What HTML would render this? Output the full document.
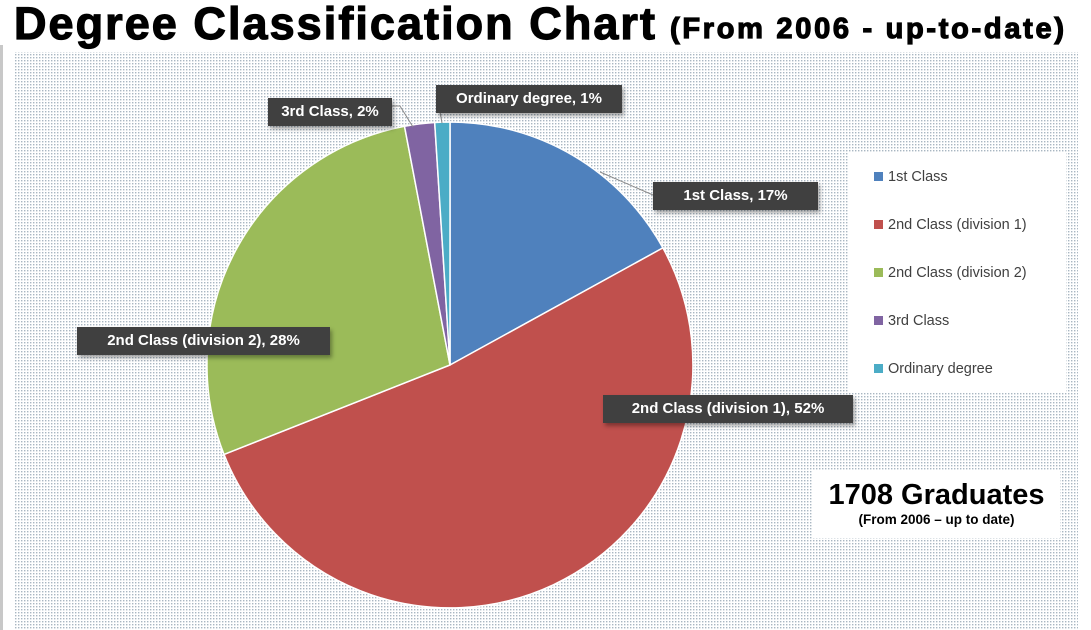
<!DOCTYPE html>
<html><head><meta charset="utf-8"><style>
body{margin:0;width:1091px;height:630px;overflow:hidden;background:#fff;font-family:"Liberation Sans",Arial,sans-serif;position:relative}
.t{position:absolute;left:14px;top:0px;font-weight:bold;white-space:nowrap;color:#000;-webkit-text-stroke:1.2px #000}
.lbl{position:absolute;background:#404040;color:#fff;font-weight:bold;font-size:15px;line-height:28px;height:28px;text-align:center;box-shadow:2px 3px 4px rgba(0,0,0,.35);white-space:nowrap}
.leg{position:absolute;left:848px;top:152px;width:218px;height:240px;background:#fff}
.li{position:absolute;left:26px;font-size:14.5px;color:#404040}
.li i{display:inline-block;width:9px;height:9px;margin-right:5px;vertical-align:0}
</style></head><body>
<div style="position:absolute;left:0;top:45px;width:3px;height:585px;background:#c8c8c8"></div>
<svg width="1091" height="630" style="position:absolute;left:0;top:0">
<defs><pattern id="d" width="3" height="3" patternUnits="userSpaceOnUse"><rect width="3" height="3" fill="#fff"/><rect width="1.4" height="1.4" fill="#a9b6c2"/></pattern></defs>
<rect x="14" y="52" width="1064" height="578" fill="url(#d)"/>
<g stroke="#fff" stroke-width="1.5">
<path d="M450,365 L450,122 A243,243 0 0 1 662.9,247.9 Z" fill="#4f81bd"/>
<path d="M450,365 L662.9,247.9 A243,243 0 1 1 224,454.4 Z" fill="#c0504d"/>
<path d="M450,365 L224,454.4 A243,243 0 0 1 404.5,126.3 Z" fill="#9bbb59"/>
<path d="M450,365 L404.5,126.3 A243,243 0 0 1 434.7,122.5 Z" fill="#8064a2"/>
<path d="M450,365 L434.7,122.5 A243,243 0 0 1 450,122 Z" fill="#4bacc6"/>
</g>
<g stroke="#8a8a8a" stroke-width="1" fill="none">
<path d="M392,106 L400,106 L413,127"/>
<path d="M440,112 L442,123"/>
<path d="M653,195 L600,172"/>
</g>
</svg>
<div class="t" style="top:-2px"><span style="font-size:45px;letter-spacing:2.05px">Degree Classification Chart</span></div>
<div class="t" style="left:670px;top:13px"><span style="font-size:29px;letter-spacing:2.7px">(From 2006 - up-to-date)</span></div>
<div class="lbl" style="left:436px;top:85px;width:186px">Ordinary degree, 1%</div>
<div class="lbl" style="left:268px;top:98px;width:124px">3rd Class, 2%</div>
<div class="lbl" style="left:653px;top:182px;width:165px">1st Class, 17%</div>
<div class="lbl" style="left:77px;top:327px;width:253px">2nd Class (division 2), 28%</div>
<div class="lbl" style="left:603px;top:395px;width:250px">2nd Class (division 1), 52%</div>
<div class="leg">
<div class="li" style="top:17px"><i style="background:#4f81bd"></i>1st Class</div>
<div class="li" style="top:65px"><i style="background:#c0504d"></i>2nd Class (division 1)</div>
<div class="li" style="top:113px"><i style="background:#9bbb59"></i>2nd Class (division 2)</div>
<div class="li" style="top:161px"><i style="background:#8064a2"></i>3rd Class</div>
<div class="li" style="top:209px"><i style="background:#4bacc6"></i>Ordinary degree</div>
</div>
<div style="position:absolute;left:813px;top:471px;width:247px;height:67px;background:#fff;text-align:center">
<div style="font-size:29px;font-weight:bold;margin-top:8px;line-height:32px">1708 Graduates</div>
<div style="font-size:13.5px;font-weight:bold;line-height:18px">(From 2006 – up to date)</div>
</div>
</body></html>
